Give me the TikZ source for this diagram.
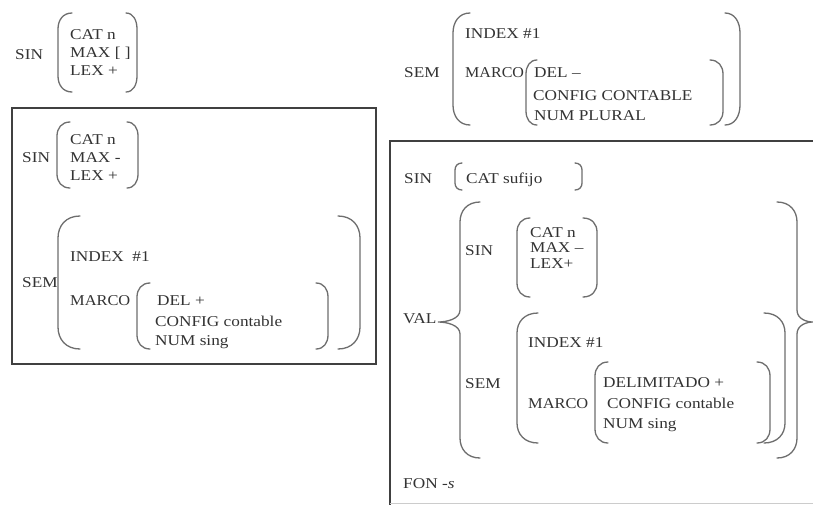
\documentclass[tikz,border=0pt]{standalone}
\usepackage{fontspec}
\usepackage{graphicx}
\setmainfont[FakeStretch=1.15]{Liberation Serif}
\definecolor{txtc}{HTML}{333333}
\definecolor{parc}{HTML}{6E6E6E}
\definecolor{boxc}{HTML}{404040}
\newcommand\myPar[5]{\draw[parline] (#2,#3) .. controls ({#1+(#2-#1)*0.35},#3) and (#1,{#3+#5*0.45}) .. (#1,{#3+#5}) -- (#1,{#4-#5}) .. controls (#1,{#4-#5*0.45}) and ({#1+(#2-#1)*0.35},#4) .. (#2,#4);}
\newcommand\myBrace[7]{\draw[parline] (#2,#3) .. controls ({#1+(#2-#1)*0.35},#3) and (#1,{#3+#5*0.45}) .. (#1,{#3+#5}) -- (#1,{#7-12}) .. controls (#1,{#7-3}) and ({#6+(#1-#6)*0.4},#7) .. (#6,#7) .. controls ({#6+(#1-#6)*0.4},#7) and (#1,{#7+3}) .. (#1,{#7+12}) -- (#1,{#4-#5}) .. controls (#1,{#4-#5*0.45}) and ({#1+(#2-#1)*0.35},#4) .. (#2,#4);}
\begin{document}
\begin{tikzpicture}[x=1pt,y=-1pt,
  lbl/.style={anchor=base west,inner sep=0pt,text=txtc,font=\fontsize{15}{18}\selectfont},
  parline/.style={draw=parc,line width=1.3pt,line cap=round},
  boxline/.style={draw=boxc,line width=1.8pt}]
\useasboundingbox (0,0) rectangle (813,504);
\fill[white] (0,0) rectangle (813,504);

% ---- top left
\node[lbl] (s1) at (15,59) {SIN};
\myPar{58}{72}{13}{92}{16}
\myPar{137}{126}{13}{92}{16}
\node[lbl] (s1a) at (70,39) {CAT n};
\node[lbl] (s1b) at (70,57) {MAX [ ]};
\node[lbl] (s1c) at (70,75) {LEX +};

% ---- left box
\draw[boxline] (12,108) rectangle (376,364);
\node[lbl] (s2) at (22,162) {SIN};
\myPar{57}{70}{122}{188}{14}
\myPar{138}{127}{122}{188}{14}
\node[lbl] (s2a) at (70,144) {CAT n};
\node[lbl] (s2b) at (70,162) {MAX -};
\node[lbl] (s2c) at (70,180) {LEX +};
\node[lbl] (m2) at (22,287) {SEM};
\myPar{58}{80}{216}{349}{22}
\myPar{360}{338}{216}{349}{22}
\node[lbl] (m2a) at (70,261) {INDEX\ \ \#1};
\node[lbl] (m2b) at (70,305) {\scalebox{0.95}[1]{MARCO}};
\myPar{137}{150}{283}{349}{14}
\myPar{328}{316}{283}{349}{14}
\node[lbl] (m2c) at (157,305) {DEL +};
\node[lbl] (m2d) at (155,326) {CONFIG contable};
\node[lbl] (m2e) at (155,345) {NUM sing};

% ---- top right
\node[lbl] (m3) at (404,77) {SEM};
\myPar{453}{470}{13}{125}{20}
\myPar{740}{725}{13}{125}{20}
\node[lbl] (m3a) at (465,38) {INDEX \#1};
\node[lbl] (m3b) at (465,77) {\scalebox{0.93}[1]{MARCO}};
\myPar{526}{537}{60}{125}{14}
\myPar{723}{710}{60}{125}{14}
\node[lbl] (m3c) at (534,77) {DEL –};
\node[lbl] (m3d) at (533,100) {CONFIG CONTABLE};
\node[lbl] (m3e) at (534,120) {NUM PLURAL};

% ---- right box
\draw[boxline] (830,141) -- (390,141) -- (390,506);
\draw[draw=black!20,line width=0.8pt] (390,503) -- (813,503);
\node[lbl] (s4) at (404,183) {SIN};
\myPar{455}{462}{163}{190}{7}
\myPar{582}{575}{163}{190}{7}
\node[lbl] (s4a) at (466,183) {CAT sufijo};
\node[lbl] (v4) at (403,323) {VAL};
\myBrace{460}{480}{202}{458}{20}{438}{322}
\myBrace{797}{777}{202}{458}{20}{813}{322}
\node[lbl] (s5) at (465,255) {SIN};
\myPar{517}{530}{218}{297}{14}
\myPar{597}{583}{218}{297}{14}
\node[lbl] (s5a) at (530,237) {CAT n};
\node[lbl] (s5b) at (530,252) {MAX –};
\node[lbl] (s5c) at (530,268) {LEX+};
\node[lbl] (m5) at (465,388) {SEM};
\myPar{517}{538}{313}{443}{20}
\myPar{785}{764}{313}{443}{20}
\node[lbl] (m5a) at (528,347) {INDEX \#1};
\node[lbl] (m5b) at (528,408) {\scalebox{0.95}[1]{MARCO}};
\myPar{595}{608}{362}{443}{14}
\myPar{770}{757}{362}{443}{14}
\node[lbl] (m5c) at (603,387) {DELIMITADO +};
\node[lbl] (m5d) at (607,408) {CONFIG contable};
\node[lbl] (m5e) at (603,428) {NUM sing};
\node[lbl] (f5) at (403,488) {FON -\textit{s}};
\end{tikzpicture}
\end{document}
